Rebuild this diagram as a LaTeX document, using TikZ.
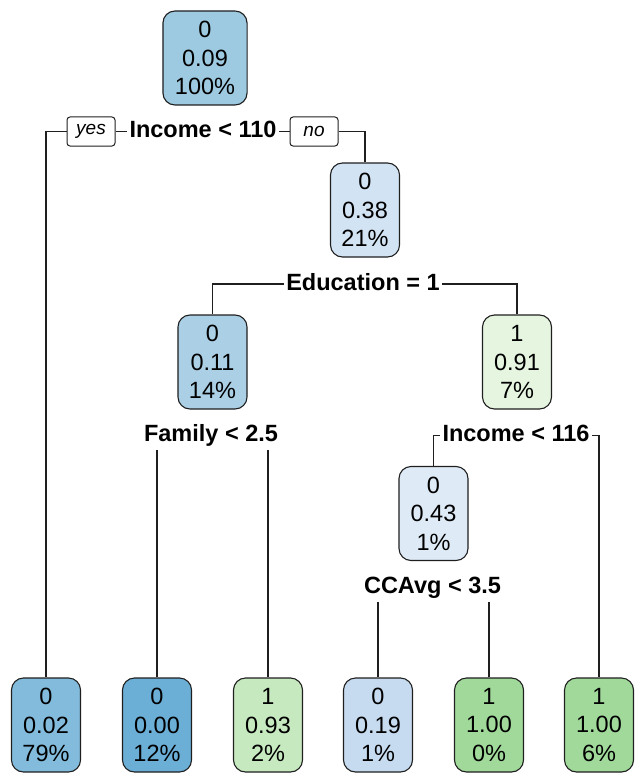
\documentclass[tikz,border=0pt]{standalone}
\usepackage{fontspec}
\setmainfont{Liberation Sans}
\definecolor{cRoot}{HTML}{9ECAE1}
\definecolor{cA}{HTML}{D2E3F3}
\definecolor{cB}{HTML}{ABD0E6}
\definecolor{cC}{HTML}{E5F5E0}
\definecolor{cD}{HTML}{DEEBF7}
\definecolor{cL1}{HTML}{82BBDB}
\definecolor{cL2}{HTML}{6BAED6}
\definecolor{cL3}{HTML}{C7E9C0}
\definecolor{cL4}{HTML}{C6DBEF}
\definecolor{cL5}{HTML}{A1D99B}
\begin{document}
\begin{tikzpicture}[x=1pt,y=-1pt,
  box/.style={draw=black!88, line width=1.1pt, rounded corners=12pt,
    minimum width=69pt, minimum height=94pt, inner xsep=11pt, align=center,
    font=\fontsize{23.5}{28.5}\selectfont},
  split/.style={font=\bfseries\fontsize{23.5}{26}\selectfont, inner xsep=2.5pt,
    inner ysep=4pt, text depth=5pt, anchor=base},
  yn/.style={draw=black!88, line width=1pt, rounded corners=3pt, minimum width=48pt,
    minimum height=29pt, inner sep=0pt, font=\itshape\fontsize{19}{20}\selectfont},
  conn/.style={line width=1.1pt, black!88}]
\useasboundingbox (0,0) rectangle (634,773);
% internal nodes
\node[box, fill=cRoot, inner xsep=12pt] (root) at (205,58) {0\\0.09\\100\%};
\node[split] (s1) at (203,137) {Income < 110};
\node[yn] (yes) at (91,131.5) {yes};
\node[yn] (no) at (314,131.5) {no};
\node[box, fill=cA] (n038) at (365,210) {0\\0.38\\21\%};
\node[split] (s2) at (363,290) {Education = 1};
\node[box, fill=cB] (n011) at (212.5,362) {0\\0.11\\14\%};
\node[box, fill=cC] (n091) at (517,362) {1\\0.91\\7\%};
\node[split] (s3) at (211,441) {Family < 2.5};
\node[split] (s4) at (516,441) {Income < 116};
\node[box, fill=cD] (n043) at (433.5,513.5) {0\\0.43\\1\%};
\node[split] (s5) at (432.5,593) {CCAvg < 3.5};
% leaves
\node[box, fill=cL1] (l1) at (46,725) {0\\0.02\\79\%};
\node[box, fill=cL2] (l2) at (157,725) {0\\0.00\\12\%};
\node[box, fill=cL3] (l3) at (268,725) {1\\0.93\\2\%};
\node[box, fill=cL4] (l4) at (378,725) {0\\0.19\\1\%};
\node[box, fill=cL5] (l5) at (489,725) {1\\1.00\\0\%};
\node[box, fill=cL5] (l6) at (599,725) {1\\1.00\\6\%};
% connectors
\draw[conn] (yes.west) -| (l1.north);
\draw[conn] (yes.east) -- (yes.east -| s1.west);
\draw[conn] (no.west) -- (no.west -| s1.east);
\draw[conn] (no.east) -| (n038.north);
\draw[conn] (s2.west) -| (n011.north);
\draw[conn] (s2.east) -| (n091.north);
\draw[conn] (l2.north |- s3.south) -- (l2.north);
\draw[conn] (l3.north |- s3.south) -- (l3.north);
\draw[conn] (s4.west) -| (n043.north);
\draw[conn] (s4.east) -| (l6.north);
\draw[conn] (l4.north |- s5.south) -- (l4.north);
\draw[conn] (l5.north |- s5.south) -- (l5.north);
\end{tikzpicture}
\end{document}
